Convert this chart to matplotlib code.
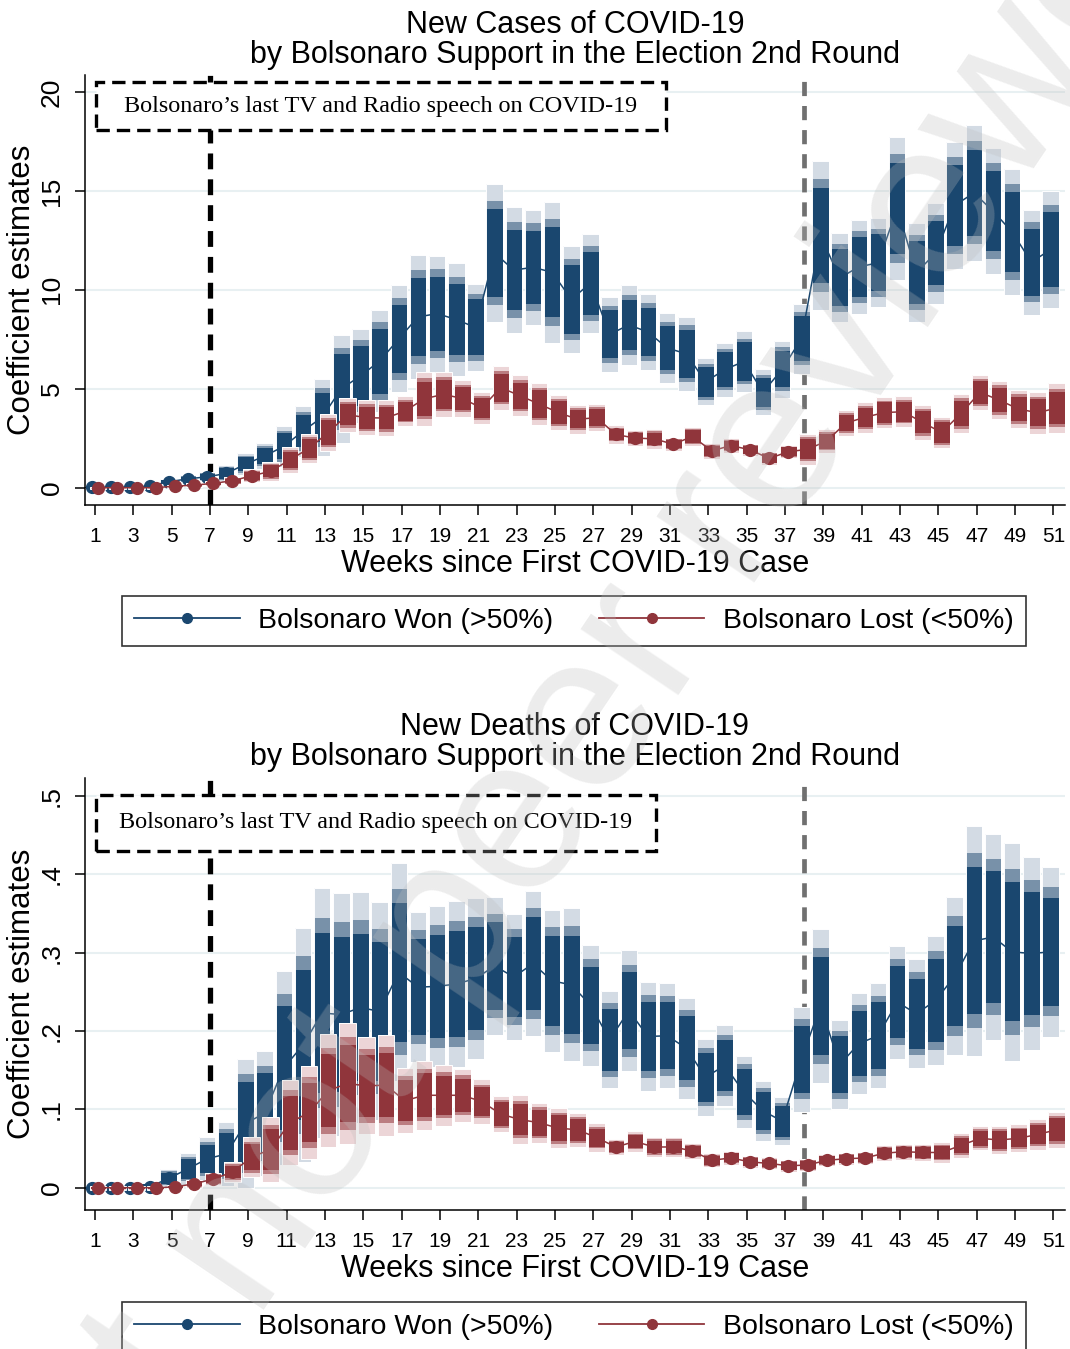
import numpy as np
import matplotlib
matplotlib.use("Agg")
import matplotlib.pyplot as plt
from matplotlib.patches import Rectangle
from matplotlib.lines import Line2D

# ========================
# GLOBAL SETTINGS
# ========================

plt.rcParams.update({
    "font.family": ["Liberation Sans", "DejaVu Sans"],
    "axes.linewidth": 1.1,
    "xtick.major.width": 1.1,
    "ytick.major.width": 1.1,
})

WEEKS = list(range(1, 52))
XTICKS = list(range(1, 52, 2))

# New cases - municipalities where Bolsonaro won (>50%)
cases_won_coef = [0.02, 0.02, 0.03, 0.08, 0.30, 0.45, 0.55, 0.72, 1.19, 1.60,
                  2.09, 2.86, 3.56, 5.00, 5.65, 6.40, 7.52, 8.63, 8.80, 8.50,
                  8.10, 11.86, 11.00, 11.14, 10.89, 9.52, 10.34, 7.75, 8.23, 7.87,
                  7.06, 6.77, 5.35, 5.97, 6.38, 4.83, 5.99, 7.53, 12.73, 10.61,
                  11.16, 11.37, 14.12, 10.88, 11.85, 14.27, 14.90, 13.98, 12.92, 11.40,
                  12.04]
cases_won_se = [0.02, 0.02, 0.02, 0.03, 0.05, 0.07, 0.09, 0.17, 0.22, 0.25,
                0.40, 0.50, 0.76, 1.06, 0.93, 1.00, 1.05, 1.21, 1.14, 1.10,
                0.86, 1.35, 1.23, 1.13, 1.38, 1.05, 0.97, 0.74, 0.78, 0.74,
                0.68, 0.73, 0.46, 0.53, 0.59, 0.45, 0.56, 0.69, 1.46, 0.87,
                0.92, 0.87, 1.40, 0.97, 0.99, 1.25, 1.33, 1.24, 1.23, 1.03,
                1.14]

# New cases - municipalities where Bolsonaro lost (<50%)
cases_lost_coef = [0.00, 0.00, 0.00, 0.00, 0.08, 0.13, 0.22, 0.35, 0.60, 0.83,
                   1.41, 1.99, 2.79, 3.69, 3.54, 3.52, 3.87, 4.49, 4.72, 4.51,
                   4.03, 5.06, 4.65, 4.23, 3.80, 3.46, 3.54, 2.69, 2.51, 2.47,
                   2.20, 2.59, 1.86, 2.13, 1.92, 1.48, 1.82, 1.94, 2.36, 3.27,
                   3.56, 3.80, 3.84, 3.30, 2.79, 3.75, 4.82, 4.43, 3.98, 3.79,
                   4.03]
cases_lost_se = [0.02, 0.02, 0.02, 0.02, 0.03, 0.04, 0.05, 0.07, 0.13, 0.19,
                 0.25, 0.29, 0.37, 0.33, 0.34, 0.35, 0.29, 0.53, 0.44, 0.36,
                 0.32, 0.43, 0.40, 0.42, 0.34, 0.28, 0.27, 0.18, 0.16, 0.19,
                 0.13, 0.19, 0.15, 0.14, 0.12, 0.13, 0.13, 0.31, 0.23, 0.25,
                 0.30, 0.31, 0.30, 0.34, 0.31, 0.39, 0.35, 0.38, 0.38, 0.41,
                 0.50]

# New deaths - Bolsonaro won
deaths_won_coef = [0.000, 0.000, 0.000, 0.001, 0.012, 0.024, 0.037, 0.043, 0.082, 0.095,
                   0.153, 0.182, 0.223, 0.221, 0.230, 0.225, 0.275, 0.256, 0.257, 0.260,
                   0.267, 0.283, 0.269, 0.286, 0.264, 0.259, 0.233, 0.189, 0.226, 0.193,
                   0.194, 0.178, 0.141, 0.156, 0.122, 0.098, 0.085, 0.164, 0.232, 0.157,
                   0.184, 0.194, 0.237, 0.222, 0.239, 0.270, 0.315, 0.320, 0.301, 0.299,
                   0.301]
deaths_won_se = [0.001, 0.001, 0.001, 0.002, 0.0045, 0.008, 0.011, 0.016, 0.032, 0.031,
                 0.048, 0.058, 0.062, 0.060, 0.057, 0.054, 0.054, 0.037, 0.040, 0.041,
                 0.040, 0.034, 0.031, 0.036, 0.035, 0.038, 0.030, 0.024, 0.030, 0.027,
                 0.026, 0.025, 0.019, 0.020, 0.018, 0.015, 0.012, 0.026, 0.038, 0.022,
                 0.025, 0.026, 0.028, 0.027, 0.032, 0.039, 0.057, 0.051, 0.054, 0.048,
                 0.042]

# New deaths - Bolsonaro lost
deaths_lost_coef = [0.000, 0.000, 0.000, 0.000, 0.001, 0.005, 0.011, 0.020, 0.039, 0.049,
                    0.083, 0.096, 0.124, 0.133, 0.130, 0.131, 0.111, 0.118, 0.118, 0.118,
                    0.110, 0.094, 0.087, 0.083, 0.076, 0.074, 0.064, 0.052, 0.059, 0.052,
                    0.052, 0.047, 0.035, 0.038, 0.033, 0.031, 0.028, 0.029, 0.035, 0.037,
                    0.038, 0.044, 0.046, 0.045, 0.045, 0.054, 0.063, 0.061, 0.063, 0.068,
                    0.074]
deaths_lost_se = [0.001, 0.001, 0.001, 0.001, 0.001, 0.002, 0.003, 0.005, 0.010, 0.016,
                  0.021, 0.023, 0.028, 0.030, 0.024, 0.025, 0.016, 0.017, 0.015, 0.013,
                  0.011, 0.009, 0.012, 0.010, 0.010, 0.0085, 0.007, 0.004, 0.005, 0.005,
                  0.005, 0.004, 0.0035, 0.0035, 0.003, 0.003, 0.003, 0.003, 0.003, 0.003,
                  0.003, 0.004, 0.004, 0.004, 0.005, 0.006, 0.006, 0.007, 0.007, 0.0075,
                  0.009]

# Palette (dark = 90%, mid = 95%, light = 99%)
BLUE = ["#1a476f", "#7891a9", "#d3dbe4"]
RED = ["#90353b", "#bb7d81", "#ecd5d7"]
Z = [1.645, 1.96, 2.576]

BAR_W = 0.86
SHIFT_WON = -0.15
SHIFT_LOST = 0.17

SPEECH_TXT = "Bolsonaro\u2019s last TV and Radio speech on COVID-19"


# ========================
# HELPERS
# ========================

def draw_series(ax, coef, se, colors, shift, z0):
    x = np.array(WEEKS) + shift
    coef = np.asarray(coef)
    se = np.asarray(se)
    for z, col in zip(Z[::-1], colors[::-1]):
        ax.bar(x, 2 * z * se, bottom=coef - z * se, width=BAR_W,
               color=col, linewidth=0, zorder=z0)
    # thin white outline round the outer band
    ax.bar(x, 2 * Z[2] * se, bottom=coef - Z[2] * se, width=BAR_W,
           fill=False, edgecolor="white", linewidth=0.7, zorder=z0 + 0.05)
    ax.plot(x, coef, color=colors[0], lw=1.1, marker="o", ms=8.5,
            zorder=z0 + 0.1)


def draw_panel(ax, title, won, lost, ylim, yticks, yticklabels, box):
    ax.set_xlim(0.48, 51.6)
    ax.set_ylim(*ylim)

    ax.axvline(7, color="black", lw=3.8, dashes=(3.0, 1.9), zorder=1.5)
    ax.axvline(38, color="#707070", lw=3.4, dashes=(3.0, 2.1), zorder=1.5)

    draw_series(ax, won[0], won[1], BLUE, SHIFT_WON, 2)
    draw_series(ax, lost[0], lost[1], RED, SHIFT_LOST, 2.5)

    x0, y0, x1, y1 = box
    ax.add_patch(Rectangle((x0, y0), x1 - x0, y1 - y0, transform=ax.transAxes,
                           facecolor="white", edgecolor="black", lw=2.4,
                           linestyle=(0, (4, 2.1)), zorder=4, clip_on=False))
    ax.text((x0 + x1) / 2, (y0 + y1) / 2, SPEECH_TXT, transform=ax.transAxes,
            ha="center", va="center", fontsize=17.4,
            family=["Liberation Serif", "DejaVu Serif"], zorder=5)

    ax.set_yticks(yticks)
    ax.set_yticklabels(yticklabels, rotation=90, va="center")
    ax.set_xticks(XTICKS)
    ax.tick_params(axis="x", length=7, pad=9, labelsize=15)
    ax.tick_params(axis="y", length=7, pad=8, labelsize=19)
    ax.yaxis.grid(True, color="#e8f0f2", lw=1.5, zorder=0)
    ax.set_axisbelow(True)
    for side in ["top", "right"]:
        ax.spines[side].set_visible(False)

    ax.set_title(title, fontsize=22, pad=9, linespacing=1.0)
    ax.set_xlabel("Weeks since First COVID-19 Case", fontsize=22, labelpad=2)
    ax.set_ylabel("Coefficient estimates", fontsize=22.5, labelpad=2)

    handles = [
        Line2D([], [], color=BLUE[0], lw=1.3, marker="o", ms=7),
        Line2D([], [], color=RED[0], lw=1.3, marker="o", ms=7),
    ]
    leg = ax.legend(handles, ["Bolsonaro Won (>50%)", "Bolsonaro Lost (<50%)"],
                    loc="center", bbox_to_anchor=(0.499, -0.271), ncol=2,
                    fontsize=20.5, frameon=True, fancybox=False, edgecolor="black",
                    handlelength=3.7, handletextpad=0.65, columnspacing=1.6,
                    borderpad=0.42)
    leg.get_frame().set_linewidth(1.2)


# ========================
# MAIN
# ========================

def main():
    fig = plt.figure(figsize=(10.7, 13.49), dpi=100)

    ax1 = fig.add_axes([0.0794, 0.6257, 0.9159, 0.3187])
    draw_panel(ax1, "New Cases of COVID-19\nby Bolsonaro Support in the Election 2nd Round",
               (cases_won_coef, cases_won_se), (cases_lost_coef, cases_lost_se),
               (-0.87, 20.86), [0, 5, 10, 15, 20], ["0", "5", "10", "15", "20"],
               (0.0112, 0.872, 0.593, 0.9837))

    ax2 = fig.add_axes([0.0794, 0.103, 0.9159, 0.3203])
    draw_panel(ax2, "New Deaths of COVID-19\nby Bolsonaro Support in the Election 2nd Round",
               (deaths_won_coef, deaths_won_se), (deaths_lost_coef, deaths_lost_se),
               (-0.0285, 0.523), [0, 0.1, 0.2, 0.3, 0.4, 0.5],
               ["0", ".1", ".2", ".3", ".4", ".5"],
               (0.0112, 0.831, 0.5827, 0.9606))

    # preprint watermark
    fig.text(0.443, 0.336, "preprint not peer reviewed", rotation=56,
             fontsize=160, color="#bdbdbd", alpha=0.28, ha="center", va="center",
             rotation_mode="anchor", zorder=10)

    fig.savefig("out.png", dpi=100)


if __name__ == "__main__":
    main()
